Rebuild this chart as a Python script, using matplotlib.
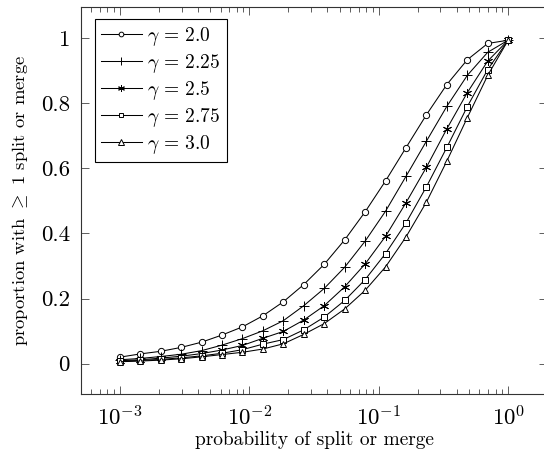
import matplotlib
matplotlib.use("Agg")
import matplotlib.pyplot as plt
from matplotlib.ticker import FixedLocator, NullFormatter

plt.rcParams['font.family'] = 'cmr10'
plt.rcParams['mathtext.fontset'] = 'cm'
plt.rcParams['axes.formatter.use_mathtext'] = True

# probability of split or merge (x positions of the samples)
p = [0.001, 0.00144, 0.00207, 0.00298, 0.00428, 0.00616, 0.00886, 0.01274,
     0.01833, 0.02637, 0.03793, 0.05456, 0.07848, 0.11288, 0.16238, 0.23357,
     0.33598, 0.48329, 0.69519, 1.0]

# proportion with >= 1 split or merge, one list per gamma
g20 = [0.020, 0.030, 0.038, 0.050, 0.066, 0.088, 0.113, 0.147, 0.190, 0.243,
       0.305, 0.380, 0.466, 0.561, 0.663, 0.764, 0.857, 0.933, 0.983, 0.993]
g225 = [0.012, 0.016, 0.022, 0.029, 0.040, 0.057, 0.077, 0.101, 0.132, 0.178,
        0.231, 0.296, 0.376, 0.468, 0.575, 0.683, 0.790, 0.885, 0.956, 0.993]
g25 = [0.009, 0.012, 0.017, 0.023, 0.031, 0.042, 0.056, 0.078, 0.099, 0.134,
       0.178, 0.236, 0.306, 0.391, 0.494, 0.603, 0.721, 0.832, 0.929, 0.993]
g275 = [0.007, 0.010, 0.013, 0.018, 0.024, 0.032, 0.043, 0.060, 0.074, 0.104,
        0.143, 0.194, 0.258, 0.338, 0.432, 0.543, 0.664, 0.789, 0.903, 0.993]
g30 = [0.006, 0.008, 0.011, 0.015, 0.021, 0.028, 0.035, 0.045, 0.061, 0.090,
       0.123, 0.168, 0.225, 0.297, 0.389, 0.496, 0.622, 0.755, 0.885, 0.993]

series = [g20, g225, g25, g275, g30]
labels = [r'$\gamma\,=\,2.0$', r'$\gamma\,=\,2.25$', r'$\gamma\,=\,2.5$',
          r'$\gamma\,=\,2.75$', r'$\gamma\,=\,3.0$']
markers = ['o', '+', (6, 2, 0), 's', '^']
msizes = [4.5, 7, 6.5, 4.5, 5]

fig = plt.figure(figsize=(5.44, 4.49), dpi=100)
ax = fig.add_axes([81 / 544, 54.7 / 449, 466 / 544, 387 / 449])

for y, lab, m, ms in zip(series, labels, markers, msizes):
    ax.plot(p, y, color='black', lw=0.75, marker=m, ms=ms, mfc='white',
            mec='black', mew=0.7, label=lab)

ax.set_xscale('log')
ax.set_xlim(10 ** -3.3, 10 ** 0.3)
ax.set_ylim(-0.094, 1.094)

ax.set_yticks([0, 0.2, 0.4, 0.6, 0.8, 1.0])
ax.set_yticklabels(['0', '0.2', '0.4', '0.6', '0.8', '1'])
ax.xaxis.set_major_locator(FixedLocator([1e-3, 1e-2, 1e-1, 1e0]))
ax.set_xticklabels([r'$10^{-3}$', r'$10^{-2}$', r'$10^{-1}$', r'$10^{0}$'])
# minor ticks only up to 1 (the range beyond is cut off in the reference)
ax.xaxis.set_minor_locator(FixedLocator(
    [k * 10.0 ** e for e in (-4, -3, -2, -1) for k in range(2, 10)]))
ax.xaxis.set_minor_formatter(NullFormatter())

ax.tick_params(which='both', direction='in', top=True, right=True, width=0.6,
               color='#444444')
ax.tick_params(which='major', length=6, labelsize=16.5, pad=8)
ax.tick_params(which='minor', length=3.5)
for s in ax.spines.values():
    s.set_linewidth(0.8)
    s.set_color('#333333')
ax.spines['right'].set_visible(False)

ax.set_xlabel('probability of split or merge', fontsize=14, labelpad=1)
ax.set_ylabel(r'proportion with $\geq$ 1 split or merge', fontsize=13.4, labelpad=8)

leg = ax.legend(loc='upper left', bbox_to_anchor=(0.030, 0.969), borderaxespad=0,
                fancybox=False, framealpha=1, edgecolor='black', fontsize=14,
                handlelength=2.1, labelspacing=0.2, handletextpad=0.3,
                borderpad=0.3, markerscale=0.75)
leg.get_frame().set_linewidth(0.8)

fig.savefig('out.png', dpi=100)
